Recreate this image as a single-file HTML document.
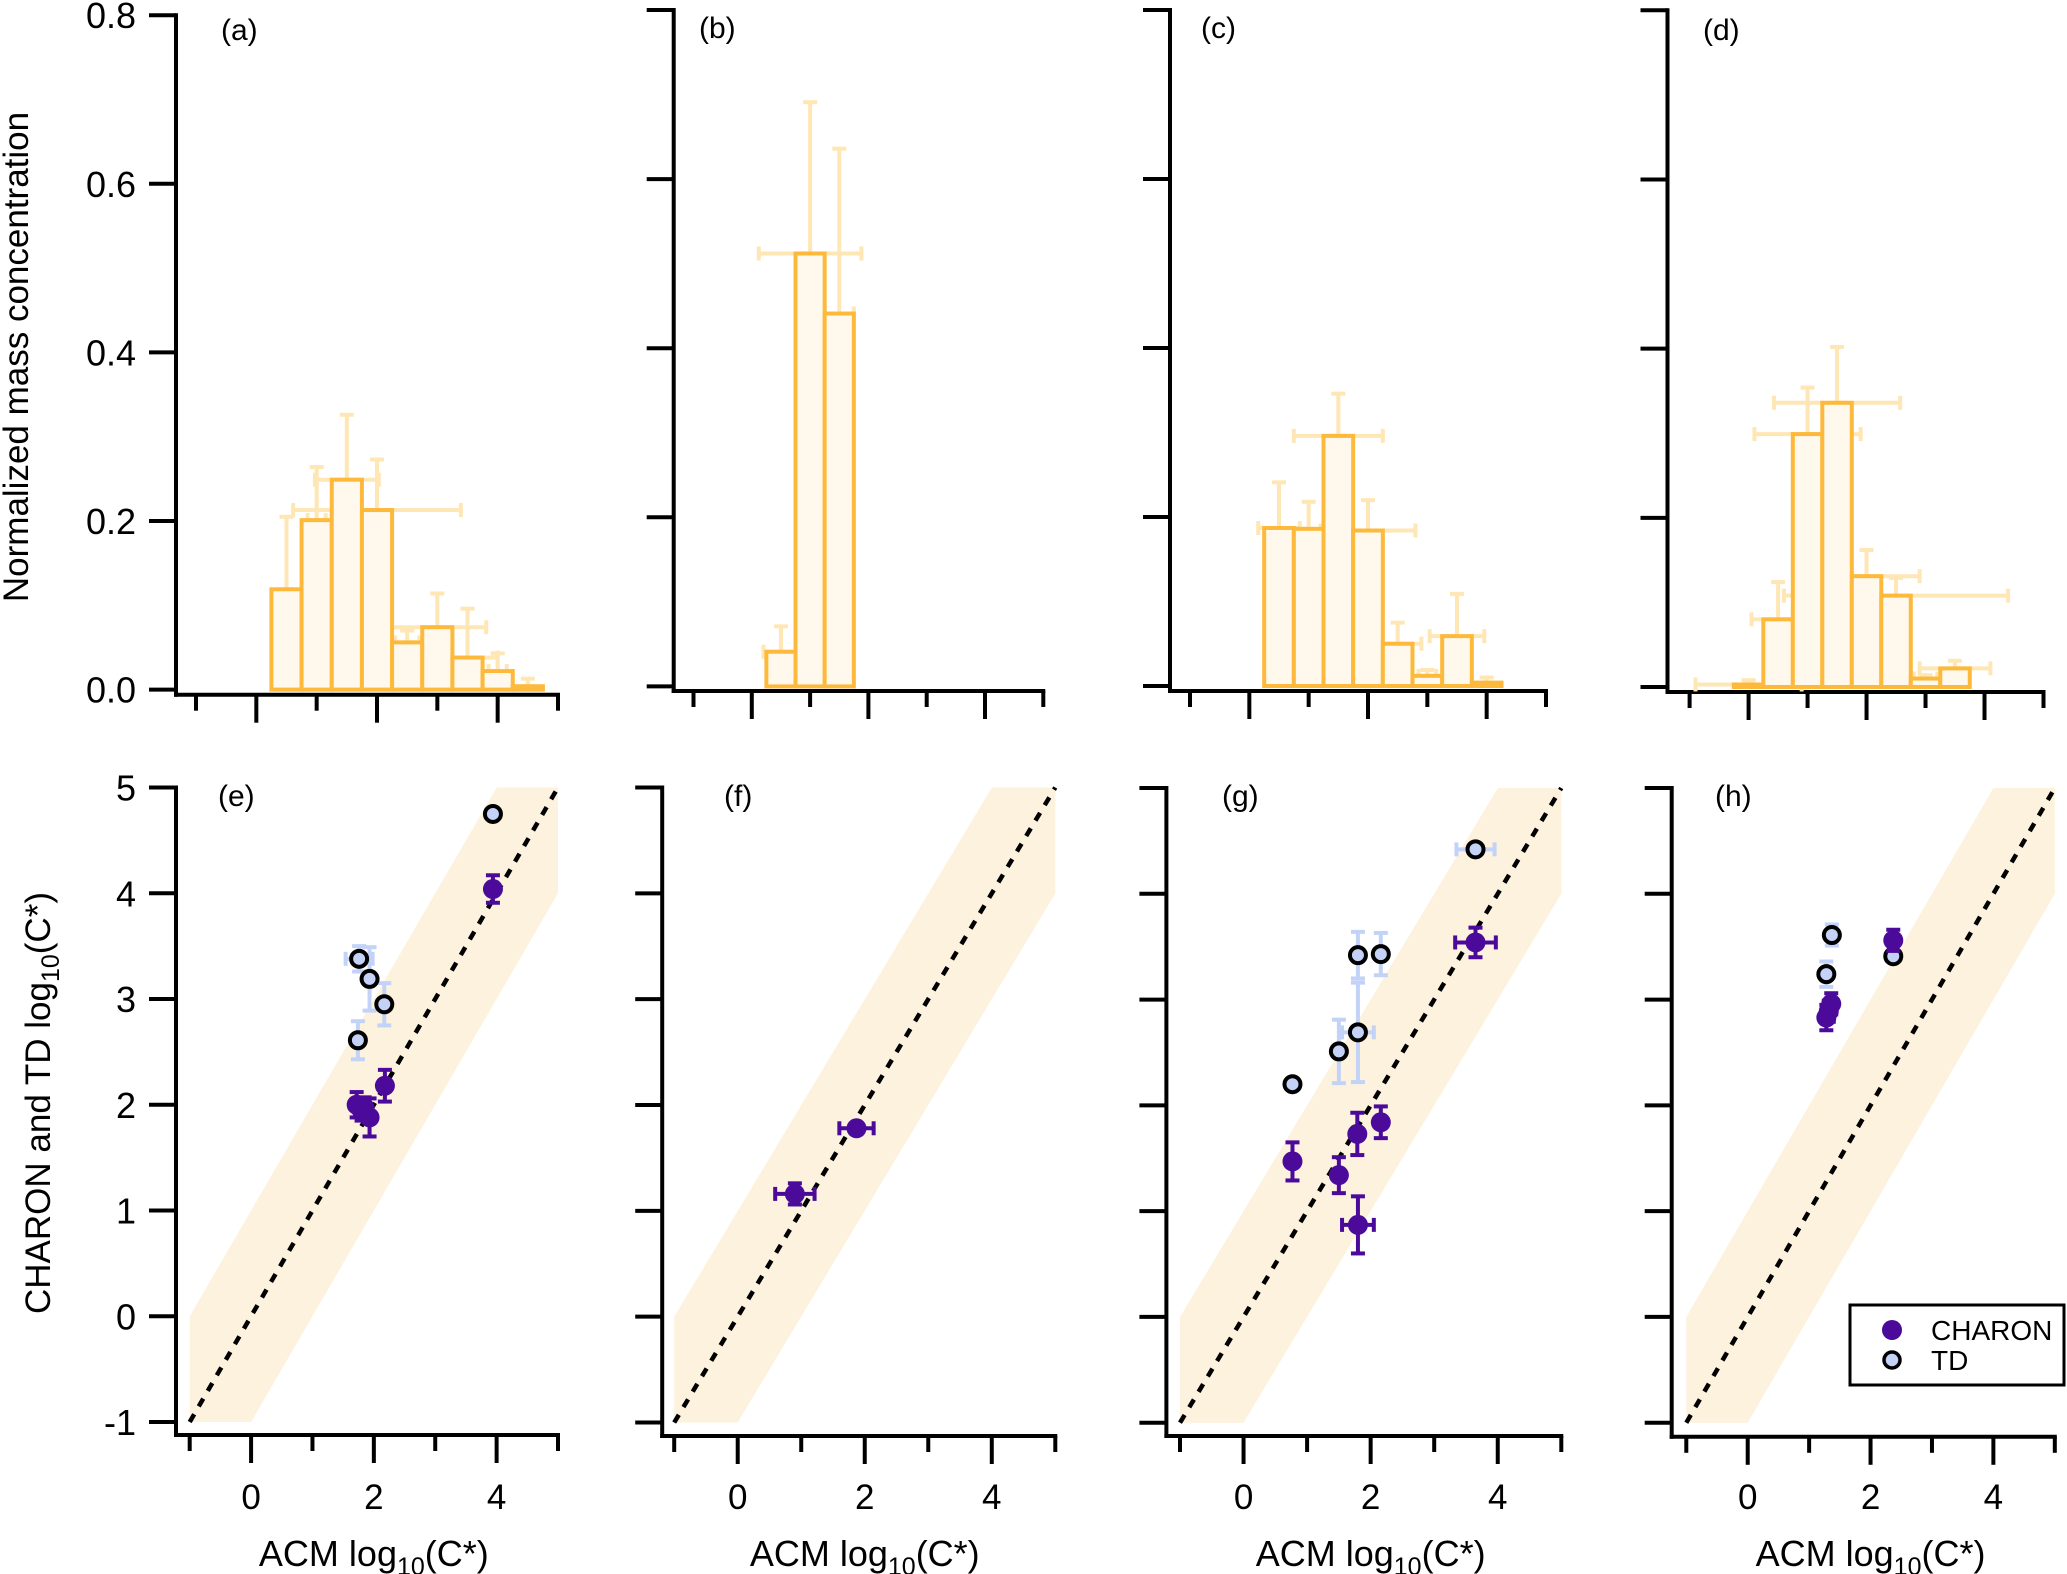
<!DOCTYPE html>
<html><head><meta charset="utf-8">
<style>
html,body{margin:0;padding:0;background:#fff;}
svg{display:block;font-family:"Liberation Sans",Arial,sans-serif;}
</style></head>
<body>
<svg id="fig" width="2067" height="1574" viewBox="0 0 2067 1574" xmlns="http://www.w3.org/2000/svg"></svg>
<script>
// ---------- DATA ----------
const aCenters=[0.5,1.0,1.5,2.0,2.5,3.0,3.5,4.0,4.5];
const aValues=[0.119,0.201,0.249,0.213,0.056,0.074,0.038,0.022,0.004];
const aErrTop=[0.205,0.264,0.326,0.273,0.070,0.114,0.096,0.043,0.013];
const aErrH=[0.12,0.15,0.53,1.39,0.2,0.81,0.5,0.15,0.1];
const bCenters=[0.5,1.0,1.5];
const bValues=[0.041,0.512,0.441];
const bErrTop=[0.071,0.691,0.636];
const bErrH=[0.3,0.88,0.25];
const cCenters=[0.5,1.0,1.5,2.0,2.5,3.0,3.5,4.0];
const cValues=[0.187,0.186,0.296,0.184,0.050,0.012,0.059,0.004];
const cErrTop=[0.241,0.218,0.346,0.220,0.075,0.019,0.109,0.010];
const cErrH=[0.35,0.1,0.75,0.8,0.4,0.15,0.46,0.1];
const dCenters=[0.0,0.5,1.0,1.5,2.0,2.5,3.0,3.5];
const dValues=[0.003,0.080,0.299,0.336,0.131,0.108,0.010,0.022];
const dErrTop=[0.008,0.124,0.354,0.402,0.162,0.129,0.014,0.031];
const dErrH=[0.9,0.45,0.9,1.07,0.9,1.9,0.2,0.6];
const topYTicks=[0,0.2,0.4,0.6,0.8];
const topYTickLabels=["0.0","0.2","0.4","0.6","0.8"];
const eCharX=[3.94,2.18,1.72,1.80,1.85,1.93];
const eCharY=[4.04,2.18,2.00,1.95,1.97,1.88];
const eCharYE=[0.13,0.15,0.12,0.1,0.1,0.18];
const eCharXE=[0,0,0,0,0,0];
const eTdX=[3.94,1.76,1.93,2.17,1.74];
const eTdY=[4.75,3.38,3.19,2.95,2.61];
const eTdYE=[0.05,0.12,0.3,0.2,0.18];
const eTdXE=[0.05,0.22,0,0,0];
const fCharX=[0.90,1.87];
const fCharY=[1.16,1.78];
const fCharYE=[0.1,0.05];
const fCharXE=[0.31,0.27];
const fTdX=[],fTdY=[],fTdYE=[],fTdXE=[];
const gCharX=[3.65,2.16,1.79,1.50,1.80,0.77];
const gCharY=[3.54,1.84,1.73,1.34,0.87,1.47];
const gCharYE=[0.14,0.15,0.2,0.17,0.27,0.18];
const gCharXE=[0.32,0,0,0,0.25,0];
const gTdX=[3.65,1.80,2.16,1.80,1.50,0.77];
const gTdY=[4.42,3.42,3.43,2.69,2.51,2.20];
const gTdYE=[0.05,0.22,0.2,0.47,0.3,0.03];
const gTdXE=[0.3,0,0,0.25,0,0];
const hCharX=[2.37,1.36,1.28,1.32];
const hCharY=[3.56,2.96,2.83,2.89];
const hCharYE=[0.1,0.1,0.12,0.1];
const hCharXE=[0,0,0,0];
const hTdX=[1.37,1.28,2.37];
const hTdY=[3.61,3.24,3.41];
const hTdYE=[0.1,0.12,0.05];
const hTdXE=[0,0,0];
const botYTicks=[-1,0,1,2,3,4,5];
const botYTickLabels=["-1","0","1","2","3","4","5"];
const xTicks=[-1,0,1,2,3,4,5];
const xTickLabels=["","0","","2","","4",""];

// ---------- HELPERS ----------
const NS="http://www.w3.org/2000/svg";
const svg=document.getElementById('fig');
function mk(tag,attrs,parent){const e=document.createElementNS(NS,tag);for(const k in attrs)e.setAttribute(k,attrs[k]);(parent||svg).appendChild(e);return e;}
const BAR='#fdb93b',BARFILL='#fef9ec',BARERR='#ffe6b5',PUR='#4b0a99',TDF='#c3d2f6',TDERR='#c3d3f8',BAND='#fdf2de';

function axes(g,p,yTicks,yLabels,showYLabels,xLabelsShow){
  const sx=v=>p.xm1+(v+1)*(p.x5-p.xm1)/6;
  const ya=mk('line',{x1:p.ax,y1:p.ytop-2,x2:p.ax,y2:p.xaxisY+2,stroke:'#000','stroke-width':4},g);
  
  const xa=mk('line',{x1:p.ax-2,y1:p.xaxisY,x2:p.x5+2,y2:p.xaxisY,stroke:'#000','stroke-width':4},g);
  
  yTicks.forEach((t,i)=>{
    const y=p.sy(t);
    const l=mk('line',{x1:p.ax-27,y1:y,x2:p.ax,y2:y,stroke:'#000','stroke-width':4},g);
    
    
    if(showYLabels){
      const tx=mk('text',{x:p.ax-40,y:y+13,'font-size':36,'text-anchor':'end',fill:'#000'},g);
      tx.textContent=yLabels[i];
      
      
    }
  });
  xTicks.forEach((t,i)=>{
    const x=sx(t);const long=(t%2===0);
    const l=mk('line',{x1:x,y1:p.xaxisY,x2:x,y2:p.xaxisY+(long?28:16),stroke:'#000','stroke-width':4},g);
    
    
    if(xLabelsShow&&xTickLabels[i]){
      const tx=mk('text',{x:x,y:1509,'font-size':35,'text-anchor':'middle',fill:'#000'},g);
      tx.textContent=xTickLabels[i];
      
      
    }
  });
  return sx;
}
function errBar(g,x1,y1,x2,y2,col,horiz){
  mk('line',{x1:x1,y1:y1,x2:x2,y2:y2,stroke:col,'stroke-width':4},g);
  const c=7;
  if(horiz){mk('line',{x1:x1,y1:y1-c,x2:x1,y2:y1+c,stroke:col,'stroke-width':4},g);mk('line',{x1:x2,y1:y2-c,x2:x2,y2:y2+c,stroke:col,'stroke-width':4},g);}
  else{mk('line',{x1:x1-c,y1:y1,x2:x1+c,y2:y1,stroke:col,'stroke-width':4},g);mk('line',{x1:x2-c,y1:y2,x2:x2+c,y2:y2,stroke:col,'stroke-width':4},g);}
}
function label(txt,x,y,name){
  const t=mk('text',{x:x,y:y,'font-size':30,fill:'#000'});
  t.textContent=txt;
  
  
}

// ---------- TOP PANELS ----------
function topPanel(name,p,centers,values,errTop,errH,showY){
  const g=mk('g',{});
  
  
  p.sy=v=>p.y0+(p.ytop-p.y0)*v/0.8;
  const sx=axes(g,p,topYTicks,topYTickLabels,showY,false);
  const eg=mk('g',{},g);
  
  
  const bg=mk('g',{},g);
  
  
  centers.forEach((c,i)=>{
    const xl=sx(c-0.25),xr=sx(c+0.25),yt=p.sy(values[i]),yb=p.sy(0);
    const r=mk('rect',{x:xl,y:yt,width:xr-xl,height:Math.max(yb-yt,0.5),fill:BARFILL,stroke:BAR,'stroke-width':4},bg);
    
    
    errBar(eg,sx(c),yt,sx(c),p.sy(errTop[i]),BARERR,false);
    if(errH[i]>0.12)errBar(eg,sx(c-errH[i]),yt,sx(c+errH[i]),yt,BARERR,true);
  });
}
topPanel('panel-a',{ax:176,xm1:196,x5:558,y0:689.6,ytop:15.2,xaxisY:694.7},aCenters,aValues,aErrTop,aErrH,true);
topPanel('panel-b',{ax:673.7,xm1:693.5,x5:1043.3,y0:686.4,ytop:10,xaxisY:691},bCenters,bValues,bErrTop,bErrH,false);
topPanel('panel-c',{ax:1170,xm1:1190,x5:1546,y0:686,ytop:10,xaxisY:691},cCenters,cValues,cErrTop,cErrH,false);
topPanel('panel-d',{ax:1667.5,xm1:1689.6,x5:2043.5,y0:687,ytop:10.3,xaxisY:692},dCenters,dValues,dErrTop,dErrH,false);

// ---------- BOTTOM PANELS ----------
function botPanel(name,p,cx,cy,cye,cxe,tx,ty,tye,txe,showY){
  const g=mk('g',{});
  
  
  p.ytop=p.y5;
  p.sy=v=>p.ym1+(v+1)*(p.y5-p.ym1)/6;
  const sxf=v=>p.xm1+(v+1)*(p.x5-p.xm1)/6;
  const band=mk('polygon',{points:[[-1,0],[4,5],[5,5],[5,4],[0,-1],[-1,-1]].map(q=>sxf(q[0])+','+p.sy(q[1])).join(' '),fill:BAND},g);
  
  
  const ln=mk('line',{x1:sxf(-1),y1:p.sy(-1),x2:sxf(5),y2:p.sy(5),stroke:'#000','stroke-width':4.5,'stroke-dasharray':'9,9'},g);
  
  
  axes(g,p,botYTicks,botYTickLabels,showY,true);
  const tg=mk('g',{},g);
  
  
  tx.forEach((x,i)=>{
    const X=sxf(x),Y=p.sy(ty[i]);
    if(tye[i]>0.04)errBar(tg,X,p.sy(ty[i]-tye[i]),X,p.sy(ty[i]+tye[i]),TDERR,false);
    if(txe[i]>0)errBar(tg,sxf(x-txe[i]),Y,sxf(x+txe[i]),Y,TDERR,true);
  });
  tx.forEach((x,i)=>{
    const c=mk('circle',{cx:sxf(x),cy:p.sy(ty[i]),r:8,fill:TDF,stroke:'#000','stroke-width':4},tg);
    
    
  });
  const cg=mk('g',{},g);
  
  
  cx.forEach((x,i)=>{
    const X=sxf(x),Y=p.sy(cy[i]);
    errBar(cg,X,p.sy(cy[i]-cye[i]),X,p.sy(cy[i]+cye[i]),PUR,false);
    if(cxe[i]>0)errBar(cg,sxf(x-cxe[i]),Y,sxf(x+cxe[i]),Y,PUR,true);
    const c=mk('circle',{cx:X,cy:Y,r:10,fill:PUR},cg);
    
    
  });
  const xl=mk('text',{x:(p.xm1+p.x5)/2,y:1566,'font-size':36,'text-anchor':'middle',fill:'#000'},g);
  xl.innerHTML='ACM log<tspan font-size="25" dy="9">10</tspan><tspan dy="-9">(C*)</tspan>';
  
  
}
botPanel('panel-e',{ax:176,xm1:189.7,x5:558,ym1:1422,y5:787.5,xaxisY:1435},eCharX,eCharY,eCharYE,eCharXE,eTdX,eTdY,eTdYE,eTdXE,true);
botPanel('panel-f',{ax:662.2,xm1:674.2,x5:1055.3,ym1:1422.5,y5:787.5,xaxisY:1436},fCharX,fCharY,fCharYE,fCharXE,fTdX,fTdY,fTdYE,fTdXE,false);
botPanel('panel-g',{ax:1166.4,xm1:1180,x5:1561.3,ym1:1422.7,y5:788,xaxisY:1436},gCharX,gCharY,gCharYE,gCharXE,gTdX,gTdY,gTdYE,gTdXE,false);
botPanel('panel-h',{ax:1671.7,xm1:1686.3,x5:2054.8,ym1:1422.7,y5:788,xaxisY:1436.8},hCharX,hCharY,hCharYE,hCharXE,hTdX,hTdY,hTdYE,hTdXE,false);

// ---------- LABELS ----------
label('(a)',221,40,'panel-label-a');
label('(b)',699,38,'panel-label-b');
label('(c)',1201,38,'panel-label-c');
label('(d)',1703,40,'panel-label-d');
label('(e)',218,806,'panel-label-e');
label('(f)',724,806,'panel-label-f');
label('(g)',1222,806,'panel-label-g');
label('(h)',1715,806,'panel-label-h');

const yl1=mk('text',{x:0,y:0,'font-size':35,'text-anchor':'middle',fill:'#000',transform:'translate(28,357) rotate(-90)'});
yl1.textContent='Normalized mass concentration';


const yl2=mk('text',{x:0,y:0,'font-size':35,'text-anchor':'middle',fill:'#000',transform:'translate(50,1103) rotate(-90)'});
yl2.innerHTML='CHARON and TD log<tspan font-size="25" dy="9">10</tspan><tspan dy="-9">(C*)</tspan>';



// ---------- LEGEND ----------
const lg=mk('g',{});


mk('rect',{x:1850,y:1305,width:214,height:80,fill:'#fff',stroke:'#000','stroke-width':3},lg);
const lc=mk('circle',{cx:1892,cy:1330,r:10,fill:PUR},lg);


const lt=mk('circle',{cx:1892,cy:1360,r:8,fill:TDF,stroke:'#000','stroke-width':3.5},lg);


const t1=mk('text',{x:1931,y:1340,'font-size':28,fill:'#000'},lg);
t1.textContent='CHARON';


const t2=mk('text',{x:1931,y:1370,'font-size':28,fill:'#000'},lg);
t2.textContent='TD';


</script>
</body></html>
